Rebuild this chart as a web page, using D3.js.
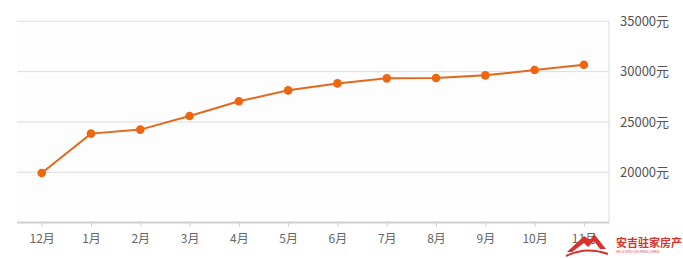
<!DOCTYPE html>
<html><head><meta charset="utf-8">
<script src="https://cdn.jsdelivr.net/npm/d3@7"></script>
<style>html,body{margin:0;padding:0;background:#fff;}svg{display:block;font-family:"Noto Sans CJK SC","DejaVu Sans",sans-serif;}</style>
</head><body>
<svg id="c" width="683" height="258"></svg>
<script>
const months = ["12月","1月","2月","3月","4月","5月","6月","7月","8月","9月","10月","11月"];
const prices = [19930,23840,24240,25590,27050,28140,28830,29330,29360,29630,30160,30680];
const yTicks = [20000,25000,30000,35000];
const yUnit = "元";

(function(){
const svg = d3.select("#c");
const pL = 17, pR = 609, pT = 21.3, pB = 222.6;
const x = d3.scalePoint().domain(months).range([41.7, 583.9]);
const y = d3.scaleLinear().domain([15000,35000]).range([pB, pT]);

svg.append("rect").attr("x",pL).attr("y",pT).attr("width",pR-pL).attr("height",pB-pT).attr("fill","#fdfdfd");

// grid
svg.append("g").selectAll("line").data(yTicks).join("line")
  .attr("x1",pL).attr("x2",pR).attr("y1",d=>y(d)).attr("y2",d=>y(d))
  .attr("stroke","#dcdcdc").attr("stroke-width",1);

// right axis line
svg.append("line").attr("x1",pR).attr("x2",pR).attr("y1",pT).attr("y2",pB).attr("stroke","#dcdcdc");

// right axis labels
const ya = svg.append("g").attr("transform",`translate(${pR},0)`)
  .call(d3.axisRight(y).tickValues(yTicks).tickSize(0).tickPadding(11).tickFormat(d=>d+yUnit));
ya.select(".domain").remove();
ya.selectAll("text").attr("font-size",13).attr("fill","#555").attr("font-family","'Noto Sans CJK SC',sans-serif");

// bottom axis
const xa = svg.append("g").attr("transform",`translate(0,${pB})`)
  .call(d3.axisBottom(x).tickSize(4).tickPadding(8));
xa.select(".domain").attr("d",`M${pL},0H${pR}`).attr("stroke","#cfcfcf").attr("stroke-width",2);
xa.selectAll(".tick line").attr("stroke","#d0d0d0");
xa.selectAll("text").attr("font-size",12).attr("fill","#666").attr("font-family","'Noto Sans CJK SC',sans-serif");

// line
const data = months.map((m,i)=>({m,v:prices[i]}));
svg.append("path").datum(data)
  .attr("d", d3.line().x(d=>x(d.m)).y(d=>y(d.v)))
  .attr("fill","none").attr("stroke","#e2691c").attr("stroke-width",2);
svg.append("g").selectAll("circle").data(data).join("circle")
  .attr("cx",d=>x(d.m)).attr("cy",d=>y(d.v)).attr("r",4.3).attr("fill","#ef6510");

// watermark logo
const lg = svg.append("g");
lg.append("path").attr("d","M567,252 L584,236 L590,240 L594,234 L606,249 L600,249 L594,241 L588,247 L584,243 L572,252 Z").attr("fill","#d8322b");
lg.append("path").attr("d","M566,256 Q586,246 608,254").attr("fill","none").attr("stroke","#d8322b").attr("stroke-width",2);
lg.append("text").attr("x",616).attr("y",247).attr("font-size",11).attr("font-weight","bold").attr("fill","#d8322b").text("安吉驻家房产");
lg.append("text").attr("x",616).attr("y",253).attr("font-size",3.6).attr("fill","#d8322b").text("AN JI ZHU JIA FANG CHAN");
})();
</script>
</body></html>
